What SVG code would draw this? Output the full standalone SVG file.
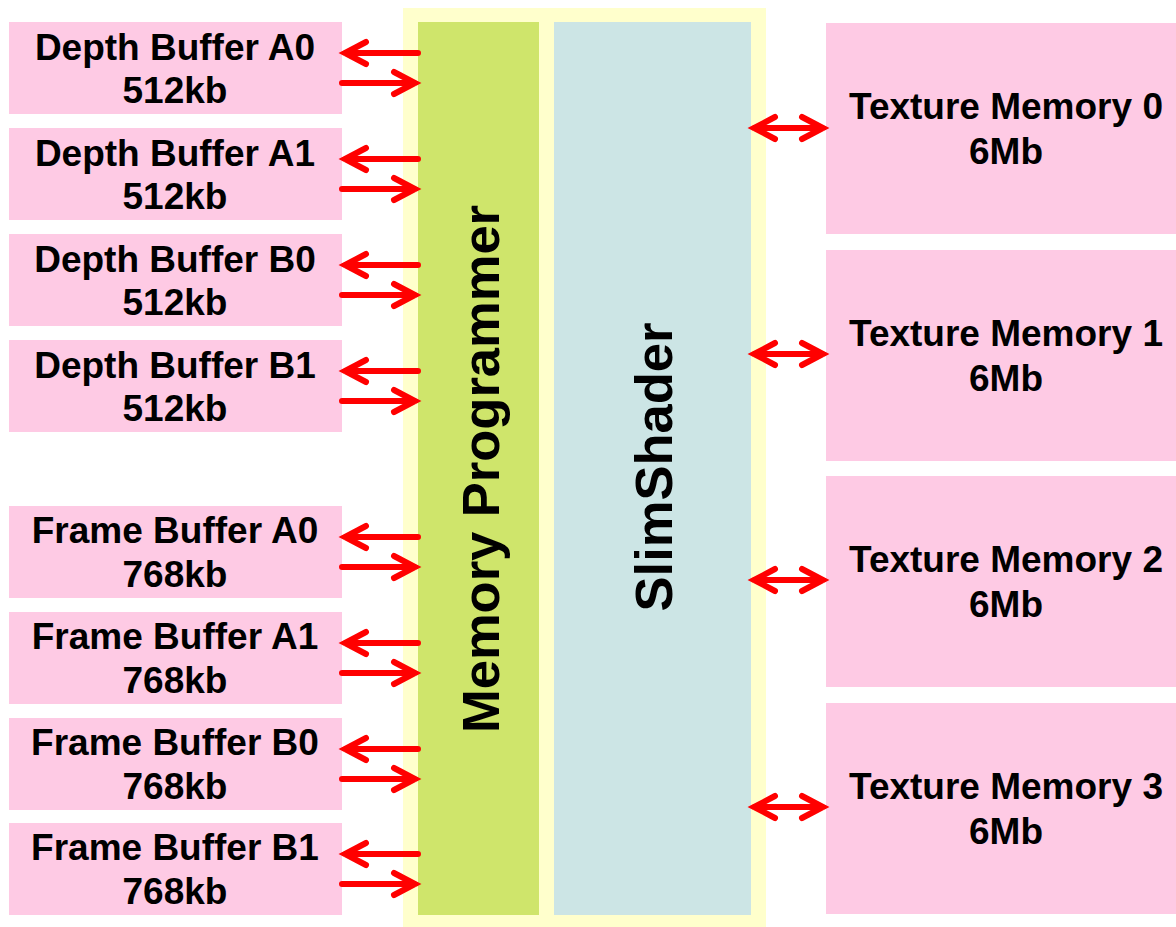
<svg xmlns="http://www.w3.org/2000/svg" width="1176" height="927" viewBox="0 0 1176 927">
<style>
.box{fill:#FECAE4}
.t{font-family:"Liberation Sans",Arial,sans-serif;font-weight:bold;font-size:37px;fill:#000;text-anchor:middle}
.v{font-family:"Liberation Sans",Arial,sans-serif;font-weight:bold;font-size:52.5px;fill:#000;text-anchor:middle}
.a{fill:none;stroke:#FF0000;stroke-width:6;stroke-linecap:round;stroke-linejoin:miter}
</style>
<rect width="1176" height="927" fill="#fff"/>
<g id="core">
<rect x="403" y="8" width="363" height="919" fill="#FFFFCC"/>
</g>
<g id="memory-programmer">
<rect x="418" y="22" width="121" height="893" fill="#CFE56B"/>
<text class="v" transform="translate(499,469) rotate(-90)">Memory Programmer</text>
</g>
<g id="slimshader">
<rect x="554" y="22" width="197" height="893" fill="#CCE5E5"/>
<text class="v" transform="translate(672,467) rotate(-90)">SlimShader</text>
</g>
<g id="depth-a0"><rect class="box" x="9" y="22" width="333" height="92"/><text class="t" x="175" y="60">Depth Buffer A0</text><text class="t" x="175" y="103">512kb</text></g>
<g id="depth-a1"><rect class="box" x="9" y="128" width="333" height="92"/><text class="t" x="175" y="166">Depth Buffer A1</text><text class="t" x="175" y="209">512kb</text></g>
<g id="depth-b0"><rect class="box" x="9" y="234" width="333" height="92"/><text class="t" x="175" y="272">Depth Buffer B0</text><text class="t" x="175" y="315">512kb</text></g>
<g id="depth-b1"><rect class="box" x="9" y="340" width="333" height="92"/><text class="t" x="175" y="378">Depth Buffer B1</text><text class="t" x="175" y="421">512kb</text></g>
<g id="frame-a0"><rect class="box" x="9" y="506" width="333" height="92"/><text class="t" x="175" y="543">Frame Buffer A0</text><text class="t" x="175" y="587">768kb</text></g>
<g id="frame-a1"><rect class="box" x="9" y="612" width="333" height="92"/><text class="t" x="175" y="649">Frame Buffer A1</text><text class="t" x="175" y="693">768kb</text></g>
<g id="frame-b0"><rect class="box" x="9" y="718" width="333" height="92"/><text class="t" x="175" y="755">Frame Buffer B0</text><text class="t" x="175" y="799">768kb</text></g>
<g id="frame-b1"><rect class="box" x="9" y="823" width="333" height="92"/><text class="t" x="175" y="860">Frame Buffer B1</text><text class="t" x="175" y="904">768kb</text></g>
<g id="tex0"><rect class="box" x="826" y="23" width="360" height="211"/><text class="t" x="1006" y="119">Texture Memory 0</text><text class="t" x="1006" y="164">6Mb</text></g>
<g id="tex1"><rect class="box" x="826" y="250" width="360" height="211"/><text class="t" x="1006" y="346">Texture Memory 1</text><text class="t" x="1006" y="391">6Mb</text></g>
<g id="tex2"><rect class="box" x="826" y="476" width="360" height="211"/><text class="t" x="1006" y="572">Texture Memory 2</text><text class="t" x="1006" y="617">6Mb</text></g>
<g id="tex3"><rect class="box" x="826" y="703" width="360" height="211"/><text class="t" x="1006" y="799">Texture Memory 3</text><text class="t" x="1006" y="844">6Mb</text></g>
<g id="connectors">
<path class="a" d="M418,53H345M366,42L345,53L366,64M342,83H415M394,72L415,83L394,94"/>
<path class="a" d="M418,159H345M366,148L345,159L366,170M342,189H415M394,178L415,189L394,200"/>
<path class="a" d="M418,265H345M366,254L345,265L366,276M342,295H415M394,284L415,295L394,306"/>
<path class="a" d="M418,371H345M366,360L345,371L366,382M342,401H415M394,390L415,401L394,412"/>
<path class="a" d="M418,537H345M366,526L345,537L366,548M342,567H415M394,556L415,567L394,578"/>
<path class="a" d="M418,643H345M366,632L345,643L366,654M342,673H415M394,662L415,673L394,684"/>
<path class="a" d="M418,749H345M366,738L345,749L366,760M342,779H415M394,768L415,779L394,790"/>
<path class="a" d="M418,854H345M366,843L345,854L366,865M342,884H415M394,873L415,884L394,895"/>
<path class="a" d="M754,128H823M775,117L754,128L775,139M802,117L823,128L802,139"/>
<path class="a" d="M754,354H823M775,343L754,354L775,365M802,343L823,354L802,365"/>
<path class="a" d="M754,580H823M775,569L754,580L775,591M802,569L823,580L802,591"/>
<path class="a" d="M754,807H823M775,796L754,807L775,818M802,796L823,807L802,818"/>
</g>
</svg>
